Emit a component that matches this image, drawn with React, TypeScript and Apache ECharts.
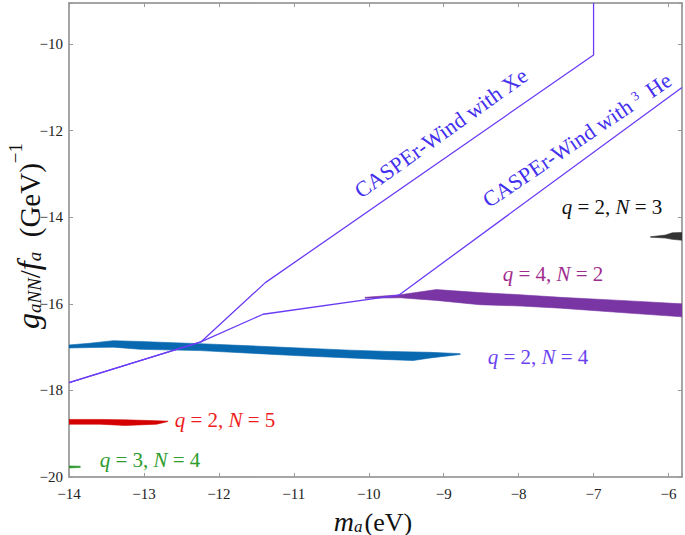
import React, { useEffect, useRef } from "react";
import * as echarts from "echarts";

// CASPEr-Wind sensitivity lines
const xeLineX = [-14, -12.24, -11.38, -7.0, -7.0];
const xeLineY = [-17.82, -16.88, -15.51, -10.25, -9.05];
const heLineX = [-14, -12.24, -11.41, -9.6, -5.82];
const heLineY = [-17.82, -16.88, -16.24, -15.8, -11.0];

// q=2, N=4 band (blue)
const blueX = [-14, -13.72, -13.41, -13.05, -12.25, -11.58, -10.92, -10.25, -9.71, -9.41, -9.18, -8.78];
const blueHigh = [-16.95, -16.91, -16.85, -16.87, -16.92, -16.97, -17.02, -17.07, -17.1, -17.11, -17.12, -17.15];
const blueLow = [-17.02, -17.01, -17.0, -17.05, -17.08, -17.14, -17.2, -17.25, -17.29, -17.31, -17.25, -17.17];

// q=2, N=5 band (red)
const redX = [-14, -13.59, -13.25, -12.83, -12.68];
const redHigh = [-18.67, -18.67, -18.68, -18.7, -18.71];
const redLow = [-18.78, -18.78, -18.81, -18.78, -18.72];

// q=3, N=4 band (green)
const greenX = [-14, -13.85];
const greenHigh = [-19.745, -19.75];
const greenLow = [-19.79, -19.78];

// q=4, N=2 band (purple)
const purpleX = [-10.05, -9.58, -9.1, -8.52, -7.98, -7.44, -6.64, -5.82];
const purpleHigh = [-15.85, -15.79, -15.67, -15.74, -15.79, -15.85, -15.92, -16.0];
const purpleLow = [-15.87, -15.86, -15.92, -16.02, -16.05, -16.1, -16.2, -16.3];

// q=2, N=3 band (black)
const blackX = [-6.24, -6.04, -5.95, -5.82];
const blackHigh = [-14.45, -14.41, -14.36, -14.35];
const blackLow = [-14.46, -14.48, -14.51, -14.53];

const xTicks = { min: -14, max: -5.82, interval: 1 };
const yTicks = { min: -20, max: -9.05, interval: 2 };

const SERIF = "'Liberation Serif', 'DejaVu Serif', serif";

function band(name: string, xs: number[], lo: number[], hi: number[], color: string) {
  return {
    type: "custom",
    name,
    coordinateSystem: "cartesian2d",
    clip: true,
    data: xs.map((x, i) => [x, lo[i], hi[i]]),
    encode: { x: 0, y: [1, 2] },
    renderItem: (params: any, api: any) => {
      if (params.dataIndex !== 0) return null;
      const pts: number[][] = [];
      for (let i = 0; i < xs.length; i++) pts.push(api.coord([xs[i], hi[i]]));
      for (let i = xs.length - 1; i >= 0; i--) pts.push(api.coord([xs[i], lo[i]]));
      return {
        type: "polygon",
        shape: { points: pts },
        style: { fill: color, stroke: color, lineWidth: 0.6 },
      };
    },
  };
}

function line(name: string, xs: number[], ys: number[], color: string) {
  return {
    type: "line",
    name,
    data: xs.map((x, i) => [x, ys[i]]),
    symbol: "none",
    lineStyle: { color, width: 1.3 },
    clip: true,
  };
}

const fmt = (v: number) =>
  Math.abs(v - Math.round(v)) > 1e-6 ? "" : String(Math.round(v)).replace("-", "\u2212");

export default function App() {
  const ref = useRef<HTMLDivElement>(null);
  useEffect(() => {
    if (!ref.current) return;
    const chart = echarts.init(ref.current, undefined, { renderer: "svg" });
    const axisLine = { show: true, onZero: false, lineStyle: { color: "#888", width: 1.5 } };
    const axisTick = { show: true, inside: true, length: 4, lineStyle: { color: "#999", width: 1 } };
    const label = { color: "#222", fontFamily: SERIF, fontSize: 15, formatter: fmt };
    const qLabel = (q: number, N: number, color: string, x: number, y: number) => ({
      type: "text",
      x,
      y,
      style: {
        text: `{i|q}{n| = ${q}, }{i|N}{n| = ${N}}`,
        rich: {
          i: { fontFamily: SERIF, fontStyle: "italic", fontSize: 21, fill: color },
          n: { fontFamily: SERIF, fontSize: 21, fill: color },
        },
        align: "center",
        verticalAlign: "middle",
      },
    });
    chart.setOption({
      animation: false,
      backgroundColor: "#fff",
      grid: { left: 69, right: 3, top: 3, bottom: 58, containLabel: false },
      xAxis: [
        {
          type: "value",
          ...xTicks,
          position: "bottom",
          axisLine,
          axisTick,
          axisLabel: { ...label, margin: 9 },
          splitLine: { show: false },
        },
        {
          type: "value",
          ...xTicks,
          position: "top",
          axisLine,
          axisTick,
          axisLabel: { show: false },
          splitLine: { show: false },
        },
      ],
      yAxis: [
        {
          type: "value",
          ...yTicks,
          position: "left",
          axisLine,
          axisTick,
          axisLabel: { ...label, margin: 6 },
          splitLine: { show: false },
        },
        {
          type: "value",
          ...yTicks,
          position: "right",
          axisLine,
          axisTick,
          axisLabel: { show: false },
          splitLine: { show: false },
        },
      ],
      series: [
        band("q=2,N=4", blueX, blueLow, blueHigh, "#0868b0"),
        band("q=2,N=5", redX, redLow, redHigh, "#d40000"),
        band("q=3,N=4", greenX, greenLow, greenHigh, "#2a962a"),
        band("q=4,N=2", purpleX, purpleLow, purpleHigh, "#7a35a4"),
        band("q=2,N=3", blackX, blackLow, blackHigh, "#333333"),
        line("CASPEr-Wind with Xe", xeLineX, xeLineY, "#6a3cf6"),
        line("CASPEr-Wind with 3He", heLineX, heLineY, "#6a3cf6"),
      ],
      graphic: [
        {
          type: "text",
          x: 441,
          y: 133,
          rotation: (35.5 * Math.PI) / 180,
          style: {
            text: "CASPEr-Wind with Xe",
            font: `22px ${SERIF}`,
            fill: "#4430ee",
            align: "center",
            verticalAlign: "middle",
          },
        },
        {
          type: "text",
          x: 577,
          y: 140,
          rotation: (34 * Math.PI) / 180,
          style: {
            text: "{n|CASPEr-Wind with }{s|3}{n| He}",
            rich: {
              n: { fontFamily: SERIF, fontSize: 22, fill: "#4430ee" },
              s: { fontFamily: SERIF, fontSize: 13, fill: "#4430ee", verticalAlign: "top", padding: [0, 4, 9, 0] },
            },
            align: "center",
            verticalAlign: "middle",
          },
        },
        qLabel(2, 3, "#111111", 612, 207),
        qLabel(4, 2, "#a02b8e", 553, 274),
        qLabel(2, 4, "#6a42f0", 538, 357),
        qLabel(2, 5, "#ee1c1c", 225, 420),
        qLabel(3, 4, "#2e9c2e", 150, 460),
        {
          type: "text",
          x: 25,
          y: 236,
          rotation: Math.PI / 2,
          style: {
            text: "{g|g}{s|aNN}{n|/}{g|f}{s|a}{n|  (GeV)}{p|\u22121}",
            rich: {
              g: { fontFamily: SERIF, fontStyle: "italic", fontSize: 32, fill: "#111", verticalAlign: "bottom", lineHeight: 38 },
              s: { fontFamily: SERIF, fontStyle: "italic", fontSize: 19, fill: "#111", verticalAlign: "bottom", lineHeight: 38 },
              n: { fontFamily: SERIF, fontSize: 29, fill: "#111", verticalAlign: "bottom", lineHeight: 38 },
              p: { fontFamily: SERIF, fontSize: 19, fill: "#111", verticalAlign: "top", lineHeight: 38 },
            },
            align: "center",
            verticalAlign: "middle",
          },
        },
        {
          type: "text",
          x: 373,
          y: 520,
          style: {
            text: "{g|m}{s|a}{n|(eV)}",
            rich: {
              g: { fontFamily: SERIF, fontStyle: "italic", fontSize: 28, fill: "#111", verticalAlign: "bottom", lineHeight: 30 },
              s: { fontFamily: SERIF, fontStyle: "italic", fontSize: 17, fill: "#111", verticalAlign: "bottom", lineHeight: 30, padding: [0, 2, 0, 0] },
              n: { fontFamily: SERIF, fontSize: 26, fill: "#111", verticalAlign: "bottom", lineHeight: 30 },
            },
            align: "center",
            verticalAlign: "middle",
          },
        },
      ],
    });
    return () => chart.dispose();
  }, []);
  return <div ref={ref} style={{ width: 685, height: 535, position: "absolute", left: 0, top: 0 }} />;
}
